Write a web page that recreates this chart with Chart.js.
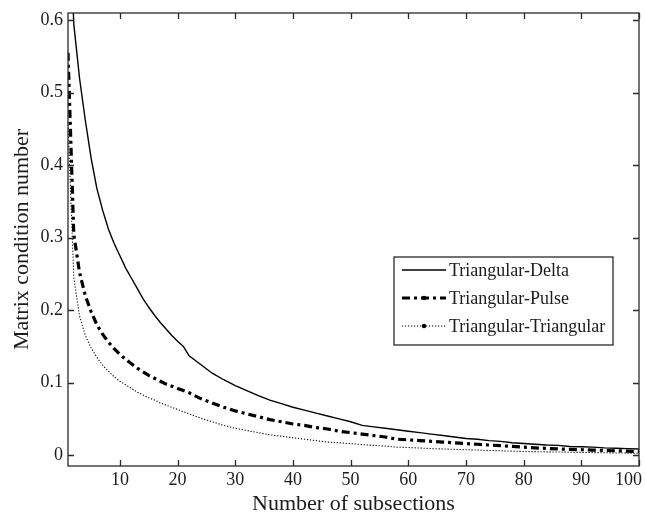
<!DOCTYPE html>
<html>
<head>
<meta charset="utf-8">
<script src="https://cdn.jsdelivr.net/npm/chart.js@4/dist/chart.umd.min.js"></script>
<style>
  html, body { margin: 0; padding: 0; background: #fff; }
  #wrap { width: 645px; height: 515px; }
</style>
</head>
<body>
<div id="wrap"><canvas id="c" width="645" height="515"></canvas></div>
<script>
// Number of subsections (shared x values for all three curves)
const subsections = [
  1, 2, 3, 4, 5, 6, 7, 8, 9, 10, 11, 12, 13, 14, 15, 16, 17, 18, 19, 20, 21, 22,
  24, 26, 28, 30, 32, 34, 36, 38, 40, 42, 44, 46, 48, 50, 52, 54, 56, 58, 60,
  62, 64, 66, 68, 70, 72, 74, 76, 78, 80, 82, 84, 86, 88, 90, 92, 94, 96, 98, 100
];

const triDelta = [
  0.80, 0.595, 0.52, 0.462, 0.41, 0.368, 0.338, 0.312, 0.292, 0.275, 0.258, 0.244, 0.230, 0.216, 0.204, 0.193, 0.183, 0.174, 0.165, 0.157, 0.150, 0.137,
  0.125, 0.113, 0.104, 0.096, 0.089, 0.082, 0.076, 0.071, 0.066, 0.062, 0.058, 0.054, 0.050, 0.046, 0.041, 0.039, 0.037, 0.035, 0.033,
  0.031, 0.029, 0.027, 0.025, 0.023, 0.022, 0.020, 0.019, 0.017, 0.016, 0.015, 0.014, 0.0135, 0.012, 0.0115, 0.011, 0.010, 0.0095, 0.009, 0.0085
];

const triPulse = [
  0.555, 0.305, 0.252, 0.220, 0.198, 0.180, 0.167, 0.156, 0.147, 0.139, 0.132, 0.126, 0.120, 0.115, 0.110, 0.106, 0.102, 0.098, 0.095, 0.092, 0.089, 0.086,
  0.078, 0.072, 0.066, 0.061, 0.057, 0.053, 0.049, 0.046, 0.043, 0.041, 0.038, 0.036, 0.033, 0.031, 0.029, 0.027, 0.025, 0.022, 0.021,
  0.020, 0.019, 0.018, 0.017, 0.016, 0.015, 0.014, 0.013, 0.012, 0.011, 0.010, 0.0093, 0.0085, 0.008, 0.0075, 0.007, 0.0065, 0.006, 0.0055, 0.005
];

const triTri = [
  0.46, 0.245, 0.192, 0.165, 0.148, 0.135, 0.124, 0.116, 0.108, 0.102, 0.097, 0.092, 0.087, 0.083, 0.079, 0.076, 0.072, 0.069, 0.066, 0.063, 0.060, 0.057,
  0.051, 0.046, 0.041, 0.037, 0.034, 0.031, 0.028, 0.026, 0.024, 0.022, 0.020, 0.018, 0.017, 0.016, 0.0145, 0.0135, 0.0125, 0.011, 0.0105,
  0.0098, 0.009, 0.0085, 0.008, 0.0075, 0.007, 0.0065, 0.006, 0.0055, 0.005, 0.0048, 0.0045, 0.0043, 0.004, 0.0038, 0.0035, 0.0033, 0.003, 0.0028, 0.0025
];

const seriesNames = ['Triangular-Delta', 'Triangular-Pulse', 'Triangular-Triangular'];
const xTicks = [10, 20, 30, 40, 50, 60, 70, 80, 90, 100];
const yTicks = [0, 0.1, 0.2, 0.3, 0.4, 0.5, 0.6];

const SERIF = '"Liberation Serif", "Times New Roman", serif';
const INK = '#1c1c1c';

const toPoints = vals => vals.map((v, i) => ({ x: subsections[i], y: v }));

const styles = [
  { borderWidth: 1.4, borderDash: [] },
  { borderWidth: 3.2, borderDash: [8, 4, 3, 4] },
  { borderWidth: 1.1, borderDash: [1.2, 1.8] }
];
const seriesValues = [triDelta, triPulse, triTri];

const datasets = seriesValues.map((vals, i) => ({
  label: seriesNames[i],
  data: toPoints(vals),
  borderColor: '#000',
  borderWidth: styles[i].borderWidth,
  borderDash: styles[i].borderDash,
  borderCapStyle: 'butt',
  pointRadius: 0,
  tension: 0,
  fill: false
}));

// Box frame, inward ticks on all four sides, x tick labels kept inside the canvas, and a boxed legend
const framePlugin = {
  id: 'frame',
  afterDatasetsDraw(chart) {
    const { ctx, chartArea: a, scales: { x, y } } = chart;
    ctx.save();
    ctx.strokeStyle = '#2a2a2a';
    ctx.lineWidth = 1.3;
    ctx.setLineDash([]);
    ctx.strokeRect(a.left, a.top, a.right - a.left, a.bottom - a.top);
    ctx.beginPath();
    xTicks.forEach(v => {
      const px = Math.round(x.getPixelForValue(v)) + 0.5;
      ctx.moveTo(px, a.bottom); ctx.lineTo(px, a.bottom - 6);
      ctx.moveTo(px, a.top); ctx.lineTo(px, a.top + 6);
    });
    yTicks.forEach(v => {
      const py = Math.round(y.getPixelForValue(v)) + 0.5;
      ctx.moveTo(a.left, py); ctx.lineTo(a.left + 6, py);
      ctx.moveTo(a.right, py); ctx.lineTo(a.right - 6, py);
    });
    ctx.stroke();

    // x tick labels
    ctx.font = '18px ' + SERIF;
    ctx.fillStyle = INK;
    ctx.textAlign = 'center';
    ctx.textBaseline = 'alphabetic';
    xTicks.forEach(v => {
      const txt = String(v);
      const w = ctx.measureText(txt).width;
      const px = Math.min(x.getPixelForValue(v), chart.width - w / 2 - 3);
      ctx.fillText(txt, px, a.bottom + 19);
    });

    // legend
    const bx = 394, by = 257, bw = 219, bh = 88;
    ctx.fillStyle = '#fff';
    ctx.fillRect(bx, by, bw, bh);
    ctx.lineWidth = 1.3;
    ctx.strokeStyle = '#2a2a2a';
    ctx.strokeRect(bx, by, bw, bh);
    ctx.font = '18px ' + SERIF;
    ctx.textBaseline = 'middle';
    ctx.textAlign = 'left';
    chart.data.datasets.forEach((ds, i) => {
      const ly = by + 13 + i * 28;
      ctx.beginPath();
      ctx.strokeStyle = '#000';
      ctx.lineWidth = ds.borderWidth;
      ctx.lineCap = 'butt';
      ctx.setLineDash(ds.borderDash);
      ctx.moveTo(bx + 8, ly);
      ctx.lineTo(bx + 52, ly);
      ctx.stroke();
      ctx.setLineDash([]);
      if (i > 0) {
        ctx.beginPath();
        ctx.fillStyle = '#000';
        ctx.arc(bx + 30, ly, 2.2, 0, Math.PI * 2);
        ctx.fill();
      }
      ctx.fillStyle = INK;
      ctx.fillText(ds.label, bx + 55, ly + 1);
    });
    ctx.restore();
  }
};

new Chart(document.getElementById('c'), {
  type: 'line',
  data: { datasets },
  options: {
    responsive: false,
    devicePixelRatio: 1,
    animation: false,
    layout: { padding: { left: 0, right: 6, top: 13, bottom: 0 } },
    plugins: { legend: { display: false }, tooltip: { enabled: false } },
    scales: {
      x: {
        type: 'linear',
        min: 1,
        max: 100,
        afterBuildTicks: s => { s.ticks = xTicks.map(v => ({ value: v })); },
        afterFit: s => { s.height = 49; s.paddingLeft = 0; s.paddingRight = 0; },
        grid: { display: false, drawTicks: false },
        border: { display: false },
        ticks: { display: false },
        title: {
          display: true,
          text: 'Number of subsections',
          color: INK,
          font: { family: SERIF, size: 22, lineHeight: 1 },
          padding: { top: 0, bottom: 0 }
        }
      },
      y: {
        type: 'linear',
        min: -0.015,
        max: 0.61,
        afterBuildTicks: s => { s.ticks = yTicks.map(v => ({ value: v })); },
        afterFit: s => { s.width = 68; s.paddingTop = 0; s.paddingBottom = 0; },
        grid: { display: false, drawTicks: false },
        border: { display: false },
        ticks: {
          padding: 5,
          color: INK,
          font: { family: SERIF, size: 18 },
          autoSkip: false,
          callback: v => String(Math.round(v * 10) / 10)
        },
        title: {
          display: true,
          text: 'Matrix condition number',
          color: INK,
          font: { family: SERIF, size: 22, lineHeight: 1 },
          padding: { top: 11, bottom: 0 }
        }
      }
    }
  },
  plugins: [framePlugin]
});
</script>
</body>
</html>
